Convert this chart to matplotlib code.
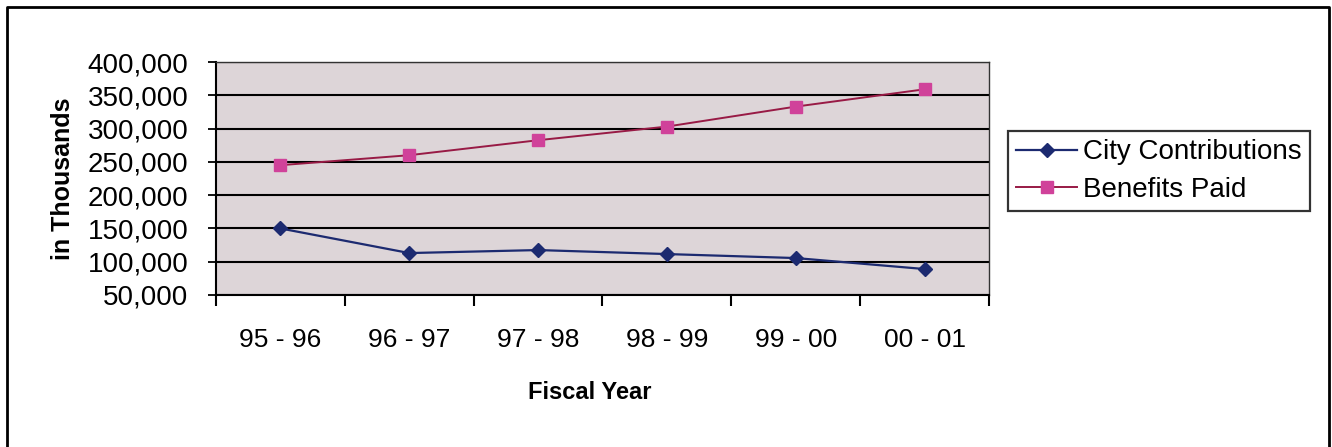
import matplotlib
matplotlib.use('Agg')
import matplotlib.pyplot as plt
from matplotlib.lines import Line2D
from matplotlib.ticker import FuncFormatter, FixedLocator

# Fiscal years and the two series (in thousands)
years = ['95 - 96', '96 - 97', '97 - 98', '98 - 99', '99 - 00', '00 - 01']
city_contributions = [150000, 113000, 117500, 111500, 105500, 89000]
benefits_paid = [245000, 260000, 282500, 303000, 333000, 359000]

plt.rcParams['font.family'] = ['Liberation Sans', 'DejaVu Sans']

fig = plt.figure(figsize=(13.32, 4.47), dpi=100)
ax = fig.add_axes([216 / 1332, 1 - 295 / 447, (989 - 216) / 1332, (295 - 62) / 447])

x = list(range(len(years)))
ax.plot(x, city_contributions, color='#1c2a70', linewidth=1.6, marker='D',
        markersize=7, markerfacecolor='#1c2a70', markeredgecolor='#1c2a70',
        label='City Contributions', zorder=3)
ax.plot(x, benefits_paid, color='#981a45', linewidth=1.4, marker='s',
        markersize=8, markerfacecolor='#d0429a', markeredgecolor='#d0429a',
        label='Benefits Paid', zorder=3)

# Plot area: grey-pink fill, black horizontal gridlines
ax.set_facecolor('#ddd5d8')
ax.set_xlim(-0.5, len(years) - 0.5)
ax.set_ylim(50000, 400000)
ax.set_yticks(range(50000, 400001, 50000))
ax.yaxis.set_major_formatter(FuncFormatter(lambda v, p: f'{int(v):,}'))
ax.grid(True, axis='y', color='black', linewidth=1.5)
ax.set_axisbelow(True)

ax.set_xticks(x)
ax.set_xticklabels(years)
ax.xaxis.set_minor_locator(FixedLocator([i - 0.5 for i in range(len(years) + 1)]))
ax.tick_params(axis='x', which='major', length=0, pad=24, labelsize=19)
ax.tick_params(axis='x', which='minor', length=8, width=1.5, direction='out')
ax.tick_params(axis='y', length=6, width=1.3, labelsize=20, pad=14)

for side in ['left', 'bottom']:
    ax.spines[side].set_linewidth(1.5)
for side in ['top', 'right']:
    ax.spines[side].set_linewidth(1.0)
    ax.spines[side].set_color('#333333')

ax.set_xlabel('Fiscal Year', fontsize=17, fontweight='bold')
ax.xaxis.set_label_coords(0.483, -0.37)
ax.set_ylabel('in Thousands', fontsize=18, fontweight='bold')
ax.yaxis.set_label_coords(-0.183, 0.5)

# Legend box to the right of the plot
leg = fig.legend(handles=ax.get_lines(), loc='upper left',
                 bbox_to_anchor=(1008 / 1332, 1 - 131 / 447),
                 fontsize=20, frameon=True, fancybox=False, borderpad=0.3,
                 handlelength=2.2, handletextpad=0.2, labelspacing=0.42,
                 borderaxespad=0)
leg.get_frame().set_edgecolor('black')
leg.get_frame().set_linewidth(1.6)

# Outer chart border (top, left, right)
fig.add_artist(Line2D([7 / 1332, 7 / 1332, 1329 / 1332, 1329 / 1332],
                      [0, 1 - 7 / 447, 1 - 7 / 447, 0],
                      transform=fig.transFigure, color='black', linewidth=2))

fig.savefig('out.png', dpi=100)
